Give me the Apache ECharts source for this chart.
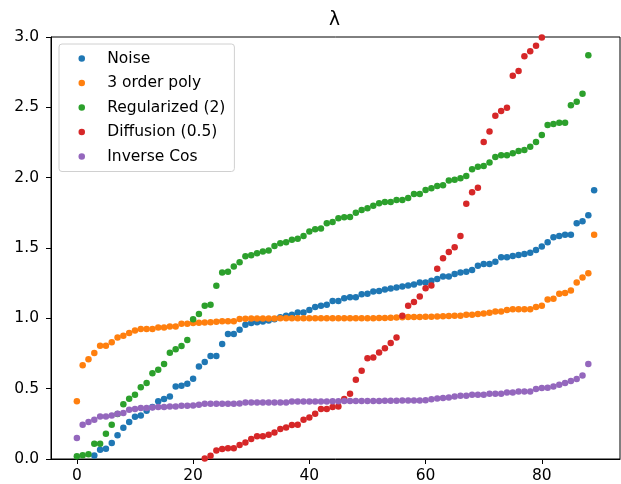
<!DOCTYPE html>
<html>
<head>
<meta charset="utf-8">
<script src="https://cdn.jsdelivr.net/npm/echarts@6/dist/echarts.min.js"></script>
<style>
  html, body { margin: 0; padding: 0; background: #fff; }
  #chart { width: 621px; height: 484px; }
</style>
</head>
<body>
<div id="chart"></div>
<script>
// sorted eigenvalue estimates, index 0..89 on the x axis
const seriesNames = ['Noise', '3 order poly', 'Regularized (2)', 'Diffusion (0.5)', 'Inverse Cos'];
const xTicks = [0, 20, 40, 60, 80];
const yTicks = [0, 0.5, 1, 1.5, 2, 2.5, 3];

const noise = [
  -0.05, -0.03, -0.01, 0.025, 0.066, 0.073, 0.114, 0.168, 0.222, 0.263,
  0.30, 0.31, 0.343, 0.37, 0.41, 0.426, 0.445, 0.516, 0.52, 0.535,
  0.57, 0.658, 0.69, 0.733, 0.733, 0.817, 0.888, 0.888, 0.918, 0.954,
  0.966, 0.973, 0.978, 0.984, 0.994, 1.008, 1.018, 1.025, 1.041, 1.041,
  1.06, 1.08, 1.09, 1.096, 1.124, 1.124, 1.143, 1.15, 1.15, 1.172,
  1.175, 1.19, 1.195, 1.205, 1.212, 1.22, 1.226, 1.233, 1.24, 1.254,
  1.254, 1.268, 1.28, 1.297, 1.297, 1.316, 1.325, 1.332, 1.344, 1.373,
  1.387, 1.387, 1.403, 1.435, 1.435, 1.444, 1.45, 1.458, 1.467, 1.485,
  1.51, 1.54, 1.577, 1.586, 1.595, 1.595, 1.676, 1.69, 1.733, 1.91
];
const poly3 = [
  0.41, 0.667, 0.71, 0.753, 0.805, 0.805, 0.83, 0.864, 0.876, 0.895,
  0.913, 0.925, 0.925, 0.925, 0.935, 0.935, 0.942, 0.942, 0.961, 0.961,
  0.966, 0.968, 0.97, 0.972, 0.975, 0.98, 0.98, 0.98, 0.995, 0.997,
  0.998, 0.998, 0.998, 0.999, 0.999, 1.0, 1.0, 1.0, 1.0, 1.0,
  1.0, 1.0, 1.0, 1.0, 1.0, 1.0, 1.0, 1.0, 1.0, 1.0,
  1.0, 1.0, 1.002, 1.003, 1.005, 1.006, 1.008, 1.009, 1.01, 1.01,
  1.011, 1.012, 1.013, 1.014, 1.016, 1.018, 1.019, 1.025, 1.025, 1.03,
  1.035, 1.04, 1.048, 1.048, 1.06, 1.065, 1.065, 1.065, 1.065, 1.08,
  1.09, 1.133, 1.14, 1.174, 1.18, 1.197, 1.254, 1.29, 1.32, 1.595
];
const regularized = [
  0.019, 0.026, 0.033, 0.108, 0.108, 0.18, 0.244, 0.32, 0.39, 0.428,
  0.456, 0.51, 0.54, 0.61, 0.634, 0.676, 0.756, 0.78, 0.804, 0.846,
  0.993, 1.03, 1.09, 1.097, 1.231, 1.325, 1.332, 1.368, 1.399, 1.442,
  1.449, 1.463, 1.475, 1.482, 1.515, 1.534, 1.541, 1.558, 1.565, 1.586,
  1.617, 1.634, 1.638, 1.676, 1.685, 1.711, 1.719, 1.72, 1.751, 1.77,
  1.783, 1.8, 1.818, 1.827, 1.827, 1.842, 1.842, 1.856, 1.884, 1.884,
  1.913, 1.925, 1.941, 1.946, 1.979, 1.986, 1.995, 2.012, 2.06, 2.078,
  2.083, 2.107, 2.147, 2.159, 2.159, 2.173, 2.19, 2.197, 2.22, 2.253,
  2.303, 2.374, 2.381, 2.39, 2.39, 2.514, 2.54, 2.597, 2.871, 3.3
];
const diffusion = [
  -1.2, -1.0, -0.85, -0.75, -0.65, -0.55, -0.48, -0.42, -0.36, -0.3,
  -0.26, -0.22, -0.18, -0.15, -0.12, -0.1, -0.08, -0.06, -0.05, -0.04,
  -0.03, -0.01, 0.004, 0.023, 0.061, 0.071, 0.076, 0.076, 0.099, 0.118,
  0.142, 0.161, 0.161, 0.173, 0.189, 0.213, 0.224, 0.241, 0.244, 0.279,
  0.295, 0.322, 0.355, 0.355, 0.369, 0.374, 0.426, 0.464, 0.563, 0.627,
  0.717, 0.722, 0.757, 0.788, 0.824, 0.864, 1.018, 1.089, 1.117, 1.155,
  1.214, 1.233, 1.352, 1.427, 1.472, 1.506, 1.586, 1.815, 1.896, 1.929,
  2.253, 2.329, 2.44, 2.474, 2.497, 2.724, 2.758, 2.864, 2.898, 2.938,
  2.997, 3.1, 3.2, 3.35, 3.5, 3.7, 3.9, 4.2, 4.6, 5.2
];
const inverseCos = [
  0.149, 0.244, 0.263, 0.279, 0.303, 0.303, 0.31, 0.322, 0.327, 0.35,
  0.355, 0.362, 0.362, 0.367, 0.37, 0.37, 0.374, 0.374, 0.379, 0.379,
  0.38, 0.386, 0.393, 0.393, 0.393, 0.393, 0.393, 0.393, 0.395, 0.402,
  0.402, 0.402, 0.402, 0.402, 0.402, 0.402, 0.402, 0.409, 0.409, 0.409,
  0.409, 0.409, 0.409, 0.409, 0.411, 0.411, 0.412, 0.412, 0.413, 0.413,
  0.413, 0.413, 0.413, 0.414, 0.414, 0.414, 0.415, 0.415, 0.415, 0.416,
  0.418, 0.425, 0.43, 0.433, 0.438, 0.445, 0.45, 0.45, 0.457, 0.457,
  0.457, 0.464, 0.464, 0.464, 0.473, 0.473, 0.48, 0.48, 0.48, 0.497,
  0.504, 0.506, 0.516, 0.528, 0.54, 0.554, 0.568, 0.594, 0.675, 3.4
];

const colors = ['#1f77b4', '#ff7f0e', '#2ca02c', '#d62728', '#9467bd'];
const allValues = [noise, poly3, regularized, diffusion, inverseCos];

const FONT = 'DejaVu Sans';
const FS = 15.5;

const chart = echarts.init(document.getElementById('chart'));

const option = {
  animation: false,
  backgroundColor: '#fff',
  color: colors,
  title: {
    text: 'λ',
    left: 324,
    top: 6,
    textStyle: { fontFamily: FONT, fontSize: 18.6, fontWeight: 'normal', color: '#000' },
  },
  legend: {
    orient: 'vertical',
    left: 59,
    top: 44,
    data: seriesNames,
    icon: 'circle',
    itemWidth: 41,
    itemHeight: 6.5,
    itemGap: 8.5,
    padding: [6.5, 9, 7, 19.5],
    backgroundColor: '#fff',
    borderColor: '#d0d0d0',
    borderWidth: 1,
    borderRadius: 3,
    textStyle: {
      fontFamily: FONT,
      fontSize: FS,
      color: '#000',
    },
  },
  grid: {
    left: 51,
    right: 1,
    top: 37,
    bottom: 25,
    show: true,
    borderColor: '#000',
    borderWidth: 1,
  },
  xAxis: {
    type: 'value',
    min: -4.45,
    max: 93.45,
    splitLine: { show: false },
    axisLine: { show: true, onZero: false, lineStyle: { color: '#000', width: 1 } },
    axisTick: { show: true, length: 5, lineStyle: { color: '#000' }, customValues: xTicks },
    axisLabel: {
      customValues: xTicks,
      margin: 9,
      color: '#000',
      fontFamily: FONT,
      fontSize: FS,
    },
  },
  yAxis: {
    type: 'value',
    min: 0,
    max: 3,
    interval: 0.5,
    splitLine: { show: false },
    axisLine: { show: true, onZero: false, lineStyle: { color: '#000', width: 1 } },
    axisTick: { show: true, length: 5, lineStyle: { color: '#000' }, customValues: yTicks },
    axisLabel: {
      customValues: yTicks,
      margin: 12,
      color: '#000',
      fontFamily: FONT,
      fontSize: FS,
      formatter: (v) => v.toFixed(1),
    },
  },
  series: seriesNames.map((name, k) => ({
    name,
    type: 'scatter',
    symbol: 'circle',
    symbolSize: 6.5,
    clip: true,
    itemStyle: { color: colors[k], opacity: 1 },
    data: allValues[k].map((v, i) => [i, v]),
  })),
};

chart.setOption(option);
</script>
</body>
</html>
